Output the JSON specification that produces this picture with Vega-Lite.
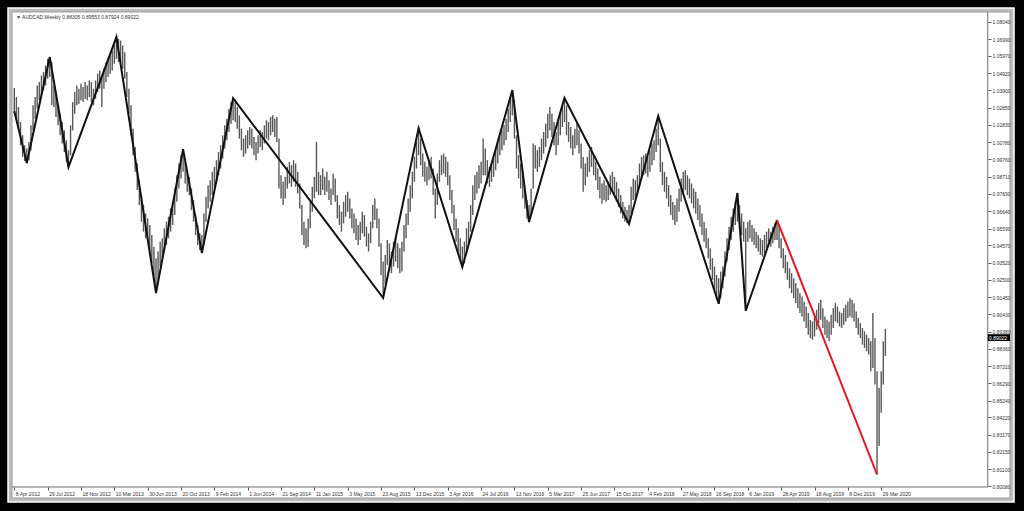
{
"$schema": "https://vega.github.io/schema/vega-lite/v6.json",
"width": 1006, "height": 494,
"autosize": {"type": "none"},
"padding": {"left": 8, "top": 8, "right": 10, "bottom": 9},
"background": "#000000",
"config": {"view": {"fill": "#bcbcbc", "stroke": "#ffffff", "strokeWidth": 1.5}, "font": "Liberation Sans", "axis": {"labelOverlap": false, "zindex": 1, "grid": false, "title": null, "tickCount": 200}},
"datasets": {
"bars": [
{"d":"2012-04-08","hi":1.0405,"lo":1.0254},{"d":"2012-04-15","hi":1.0350,"lo":1.0215},{"d":"2012-04-22","hi":1.0290,"lo":1.0160},{"d":"2012-04-29","hi":1.0200,"lo":1.0060},
{"d":"2012-05-06","hi":1.0120,"lo":0.9990},{"d":"2012-05-13","hi":1.0060,"lo":0.9965},{"d":"2012-05-20","hi":1.0040,"lo":0.9953},{"d":"2012-05-27","hi":1.0080,"lo":0.9970},
{"d":"2012-06-03","hi":1.0180,"lo":1.0030},{"d":"2012-06-10","hi":1.0300,"lo":1.0150},{"d":"2012-06-17","hi":1.0350,"lo":1.0220},{"d":"2012-06-24","hi":1.0420,"lo":1.0280},
{"d":"2012-07-01","hi":1.0440,"lo":1.0330},{"d":"2012-07-08","hi":1.0480,"lo":1.0360},{"d":"2012-07-15","hi":1.0500,"lo":1.0390},{"d":"2012-07-22","hi":1.0540,"lo":1.0420},{"d":"2012-07-29","hi":1.0580,"lo":1.0460},
{"d":"2012-08-05","hi":1.0591,"lo":1.0470},{"d":"2012-08-12","hi":1.0560,"lo":1.0300},{"d":"2012-08-19","hi":1.0420,"lo":1.0290},{"d":"2012-08-26","hi":1.0380,"lo":1.0230},
{"d":"2012-09-02","hi":1.0300,"lo":1.0180},{"d":"2012-09-09","hi":1.0250,"lo":1.0120},{"d":"2012-09-16","hi":1.0200,"lo":1.0070},{"d":"2012-09-23","hi":1.0150,"lo":1.0020},{"d":"2012-09-30","hi":1.0090,"lo":0.9960},
{"d":"2012-10-07","hi":1.0030,"lo":0.9929},{"d":"2012-10-14","hi":1.0180,"lo":1.0000},{"d":"2012-10-21","hi":1.0320,"lo":1.0150},{"d":"2012-10-28","hi":1.0380,"lo":1.0250},
{"d":"2012-11-04","hi":1.0420,"lo":1.0300},{"d":"2012-11-11","hi":1.0400,"lo":1.0310},{"d":"2012-11-18","hi":1.0430,"lo":1.0330},{"d":"2012-11-25","hi":1.0410,"lo":1.0320},
{"d":"2012-12-02","hi":1.0440,"lo":1.0340},{"d":"2012-12-09","hi":1.0420,"lo":1.0330},{"d":"2012-12-16","hi":1.0450,"lo":1.0350},{"d":"2012-12-23","hi":1.0440,"lo":1.0320},{"d":"2012-12-30","hi":1.0400,"lo":1.0300},
{"d":"2013-01-06","hi":1.0450,"lo":1.0340},{"d":"2013-01-13","hi":1.0490,"lo":1.0380},{"d":"2013-01-20","hi":1.0510,"lo":1.0400},{"d":"2013-01-27","hi":1.0470,"lo":1.0290},
{"d":"2013-02-03","hi":1.0520,"lo":1.0400},{"d":"2013-02-10","hi":1.0560,"lo":1.0440},{"d":"2013-02-17","hi":1.0580,"lo":1.0470},{"d":"2013-02-24","hi":1.0600,"lo":1.0490},
{"d":"2013-03-03","hi":1.0630,"lo":1.0510},{"d":"2013-03-10","hi":1.0680,"lo":1.0550},{"d":"2013-03-17","hi":1.0711,"lo":1.0580},{"d":"2013-03-24","hi":1.0700,"lo":1.0560},{"d":"2013-03-31","hi":1.0690,"lo":1.0560},
{"d":"2013-04-07","hi":1.0660,"lo":1.0520},{"d":"2013-04-14","hi":1.0620,"lo":1.0460},{"d":"2013-04-21","hi":1.0500,"lo":1.0350},{"d":"2013-04-28","hi":1.0400,"lo":1.0250},
{"d":"2013-05-05","hi":1.0300,"lo":1.0120},{"d":"2013-05-12","hi":1.0160,"lo":1.0000},{"d":"2013-05-19","hi":1.0050,"lo":0.9900},{"d":"2013-05-26","hi":0.9950,"lo":0.9790},
{"d":"2013-06-02","hi":0.9850,"lo":0.9700},{"d":"2013-06-09","hi":0.9760,"lo":0.9600},{"d":"2013-06-16","hi":0.9700,"lo":0.9540},{"d":"2013-06-23","hi":0.9650,"lo":0.9500},{"d":"2013-06-30","hi":0.9620,"lo":0.9480},
{"d":"2013-07-07","hi":0.9580,"lo":0.9420},{"d":"2013-07-14","hi":0.9520,"lo":0.9350},{"d":"2013-07-21","hi":0.9450,"lo":0.9250},{"d":"2013-07-28","hi":0.9380,"lo":0.9171},
{"d":"2013-08-04","hi":0.9420,"lo":0.9250},{"d":"2013-08-11","hi":0.9480,"lo":0.9330},{"d":"2013-08-18","hi":0.9500,"lo":0.9380},{"d":"2013-08-25","hi":0.9560,"lo":0.9420},
{"d":"2013-09-01","hi":0.9600,"lo":0.9460},{"d":"2013-09-08","hi":0.9630,"lo":0.9500},{"d":"2013-09-15","hi":0.9680,"lo":0.9540},{"d":"2013-09-22","hi":0.9720,"lo":0.9580},{"d":"2013-09-29","hi":0.9800,"lo":0.9640},
{"d":"2013-10-06","hi":0.9880,"lo":0.9720},{"d":"2013-10-13","hi":0.9950,"lo":0.9800},{"d":"2013-10-20","hi":1.0000,"lo":0.9860},{"d":"2013-10-27","hi":1.0037,"lo":0.9900},
{"d":"2013-11-03","hi":0.9960,"lo":0.9830},{"d":"2013-11-10","hi":0.9900,"lo":0.9780},{"d":"2013-11-17","hi":0.9870,"lo":0.9760},{"d":"2013-11-24","hi":0.9800,"lo":0.9670},
{"d":"2013-12-01","hi":0.9730,"lo":0.9600},{"d":"2013-12-08","hi":0.9640,"lo":0.9520},{"d":"2013-12-15","hi":0.9580,"lo":0.9460},{"d":"2013-12-22","hi":0.9530,"lo":0.9430},{"d":"2013-12-29","hi":0.9520,"lo":0.9412},
{"d":"2014-01-05","hi":0.9650,"lo":0.9460},{"d":"2014-01-12","hi":0.9750,"lo":0.9600},{"d":"2014-01-19","hi":0.9820,"lo":0.9680},{"d":"2014-01-26","hi":0.9850,"lo":0.9720},
{"d":"2014-02-02","hi":0.9900,"lo":0.9760},{"d":"2014-02-09","hi":0.9930,"lo":0.9800},{"d":"2014-02-16","hi":0.9970,"lo":0.9830},{"d":"2014-02-23","hi":1.0020,"lo":0.9880},
{"d":"2014-03-02","hi":1.0060,"lo":0.9920},{"d":"2014-03-09","hi":1.0120,"lo":0.9980},{"d":"2014-03-16","hi":1.0180,"lo":1.0040},{"d":"2014-03-23","hi":1.0220,"lo":1.0090},{"d":"2014-03-30","hi":1.0280,"lo":1.0140},
{"d":"2014-04-06","hi":1.0320,"lo":1.0190},{"d":"2014-04-13","hi":1.0344,"lo":1.0210},{"d":"2014-04-20","hi":1.0320,"lo":1.0200},{"d":"2014-04-27","hi":1.0290,"lo":1.0160},
{"d":"2014-05-04","hi":1.0240,"lo":1.0100},{"d":"2014-05-11","hi":1.0160,"lo":1.0030},{"d":"2014-05-18","hi":1.0100,"lo":0.9990},{"d":"2014-05-25","hi":1.0120,"lo":1.0010},
{"d":"2014-06-01","hi":1.0150,"lo":1.0040},{"d":"2014-06-08","hi":1.0170,"lo":1.0060},{"d":"2014-06-15","hi":1.0160,"lo":1.0040},{"d":"2014-06-22","hi":1.0110,"lo":1.0000},{"d":"2014-06-29","hi":1.0080,"lo":0.9970},
{"d":"2014-07-06","hi":1.0120,"lo":1.0010},{"d":"2014-07-13","hi":1.0150,"lo":1.0050},{"d":"2014-07-20","hi":1.0140,"lo":1.0030},{"d":"2014-07-27","hi":1.0180,"lo":1.0070},
{"d":"2014-08-03","hi":1.0210,"lo":1.0100},{"d":"2014-08-10","hi":1.0200,"lo":1.0090},{"d":"2014-08-17","hi":1.0230,"lo":1.0120},{"d":"2014-08-24","hi":1.0240,"lo":1.0140},{"d":"2014-08-31","hi":1.0220,"lo":1.0110},
{"d":"2014-09-07","hi":1.0230,"lo":1.0080},{"d":"2014-09-14","hi":1.0100,"lo":0.9800},{"d":"2014-09-21","hi":0.9880,"lo":0.9740},{"d":"2014-09-28","hi":0.9840,"lo":0.9700},
{"d":"2014-10-05","hi":0.9870,"lo":0.9740},{"d":"2014-10-12","hi":0.9930,"lo":0.9800},{"d":"2014-10-19","hi":0.9960,"lo":0.9830},{"d":"2014-10-26","hi":0.9940,"lo":0.9810},
{"d":"2014-11-02","hi":0.9970,"lo":0.9840},{"d":"2014-11-09","hi":0.9950,"lo":0.9810},{"d":"2014-11-16","hi":0.9900,"lo":0.9770},{"d":"2014-11-23","hi":0.9830,"lo":0.9680},{"d":"2014-11-30","hi":0.9700,"lo":0.9520},
{"d":"2014-12-07","hi":0.9600,"lo":0.9460},{"d":"2014-12-14","hi":0.9560,"lo":0.9440},{"d":"2014-12-21","hi":0.9620,"lo":0.9450},{"d":"2014-12-28","hi":0.9720,"lo":0.9560},
{"d":"2015-01-04","hi":0.9810,"lo":0.9660},{"d":"2015-01-11","hi":0.9870,"lo":0.9740},{"d":"2015-01-18","hi":1.0080,"lo":0.9780},{"d":"2015-01-25","hi":0.9900,"lo":0.9760},
{"d":"2015-02-01","hi":0.9880,"lo":0.9760},{"d":"2015-02-08","hi":0.9920,"lo":0.9790},{"d":"2015-02-15","hi":0.9870,"lo":0.9760},{"d":"2015-02-22","hi":0.9900,"lo":0.9780},
{"d":"2015-03-01","hi":0.9850,"lo":0.9730},{"d":"2015-03-08","hi":0.9800,"lo":0.9700},{"d":"2015-03-15","hi":0.9890,"lo":0.9760},{"d":"2015-03-22","hi":0.9860,"lo":0.9720},{"d":"2015-03-29","hi":0.9760,"lo":0.9620},
{"d":"2015-04-05","hi":0.9700,"lo":0.9580},{"d":"2015-04-12","hi":0.9660,"lo":0.9540},{"d":"2015-04-19","hi":0.9720,"lo":0.9590},{"d":"2015-04-26","hi":0.9760,"lo":0.9630},
{"d":"2015-05-03","hi":0.9780,"lo":0.9660},{"d":"2015-05-10","hi":0.9740,"lo":0.9620},{"d":"2015-05-17","hi":0.9680,"lo":0.9560},{"d":"2015-05-24","hi":0.9650,"lo":0.9530},{"d":"2015-05-31","hi":0.9620,"lo":0.9490},
{"d":"2015-06-07","hi":0.9580,"lo":0.9460},{"d":"2015-06-14","hi":0.9600,"lo":0.9490},{"d":"2015-06-21","hi":0.9660,"lo":0.9530},{"d":"2015-06-28","hi":0.9640,"lo":0.9510},
{"d":"2015-07-05","hi":0.9570,"lo":0.9450},{"d":"2015-07-12","hi":0.9530,"lo":0.9420},{"d":"2015-07-19","hi":0.9600,"lo":0.9470},{"d":"2015-07-26","hi":0.9700,"lo":0.9560},
{"d":"2015-08-02","hi":0.9740,"lo":0.9610},{"d":"2015-08-09","hi":0.9680,"lo":0.9560},{"d":"2015-08-16","hi":0.9620,"lo":0.9450},{"d":"2015-08-23","hi":0.9470,"lo":0.9280},{"d":"2015-08-30","hi":0.9360,"lo":0.9141},
{"d":"2015-09-06","hi":0.9400,"lo":0.9220},{"d":"2015-09-13","hi":0.9490,"lo":0.9340},{"d":"2015-09-20","hi":0.9470,"lo":0.9330},{"d":"2015-09-27","hi":0.9420,"lo":0.9290},
{"d":"2015-10-04","hi":0.9480,"lo":0.9330},{"d":"2015-10-11","hi":0.9510,"lo":0.9360},{"d":"2015-10-18","hi":0.9470,"lo":0.9320},{"d":"2015-10-25","hi":0.9440,"lo":0.9290},
{"d":"2015-11-01","hi":0.9480,"lo":0.9300},{"d":"2015-11-08","hi":0.9580,"lo":0.9420},{"d":"2015-11-15","hi":0.9650,"lo":0.9500},{"d":"2015-11-22","hi":0.9740,"lo":0.9580},{"d":"2015-11-29","hi":0.9820,"lo":0.9660},
{"d":"2015-12-06","hi":0.9900,"lo":0.9740},{"d":"2015-12-13","hi":0.9990,"lo":0.9840},{"d":"2015-12-20","hi":1.0080,"lo":0.9920},{"d":"2015-12-27","hi":1.0163,"lo":1.0000},
{"d":"2016-01-03","hi":1.0100,"lo":0.9940},{"d":"2016-01-10","hi":1.0010,"lo":0.9870},{"d":"2016-01-17","hi":0.9960,"lo":0.9840},{"d":"2016-01-24","hi":0.9930,"lo":0.9820},{"d":"2016-01-31","hi":0.9970,"lo":0.9850},
{"d":"2016-02-07","hi":0.9990,"lo":0.9860},{"d":"2016-02-14","hi":0.9920,"lo":0.9760},{"d":"2016-02-21","hi":0.9800,"lo":0.9620},{"d":"2016-02-28","hi":0.9890,"lo":0.9700},
{"d":"2016-03-06","hi":0.9970,"lo":0.9840},{"d":"2016-03-13","hi":1.0000,"lo":0.9880},{"d":"2016-03-20","hi":1.0010,"lo":0.9890},{"d":"2016-03-27","hi":0.9990,"lo":0.9870},
{"d":"2016-04-03","hi":0.9960,"lo":0.9820},{"d":"2016-04-10","hi":0.9880,"lo":0.9730},{"d":"2016-04-17","hi":0.9790,"lo":0.9650},{"d":"2016-04-24","hi":0.9700,"lo":0.9550},
{"d":"2016-05-01","hi":0.9620,"lo":0.9480},{"d":"2016-05-08","hi":0.9560,"lo":0.9420},{"d":"2016-05-15","hi":0.9500,"lo":0.9380},{"d":"2016-05-22","hi":0.9450,"lo":0.9328},{"d":"2016-05-29","hi":0.9480,"lo":0.9350},
{"d":"2016-06-05","hi":0.9560,"lo":0.9410},{"d":"2016-06-12","hi":0.9600,"lo":0.9470},{"d":"2016-06-19","hi":0.9700,"lo":0.9540},{"d":"2016-06-26","hi":0.9820,"lo":0.9640},
{"d":"2016-07-03","hi":0.9880,"lo":0.9730},{"d":"2016-07-10","hi":0.9900,"lo":0.9770},{"d":"2016-07-17","hi":0.9940,"lo":0.9800},{"d":"2016-07-24","hi":0.9960,"lo":0.9830},{"d":"2016-07-31","hi":1.0100,"lo":0.9880},
{"d":"2016-08-07","hi":1.0040,"lo":0.9880},{"d":"2016-08-14","hi":0.9970,"lo":0.9830},{"d":"2016-08-21","hi":0.9930,"lo":0.9810},{"d":"2016-08-28","hi":0.9950,"lo":0.9840},
{"d":"2016-09-04","hi":0.9990,"lo":0.9870},{"d":"2016-09-11","hi":1.0040,"lo":0.9910},{"d":"2016-09-18","hi":1.0080,"lo":0.9950},{"d":"2016-09-25","hi":1.0130,"lo":1.0000},
{"d":"2016-10-02","hi":1.0150,"lo":1.0030},{"d":"2016-10-09","hi":1.0180,"lo":1.0060},{"d":"2016-10-16","hi":1.0220,"lo":1.0090},{"d":"2016-10-23","hi":1.0280,"lo":1.0140},{"d":"2016-10-30","hi":1.0350,"lo":1.0200},
{"d":"2016-11-06","hi":1.0392,"lo":1.0240},{"d":"2016-11-13","hi":1.0330,"lo":1.0100},{"d":"2016-11-20","hi":1.0120,"lo":0.9920},{"d":"2016-11-27","hi":1.0000,"lo":0.9860},
{"d":"2016-12-04","hi":0.9950,"lo":0.9800},{"d":"2016-12-11","hi":0.9900,"lo":0.9740},{"d":"2016-12-18","hi":0.9790,"lo":0.9680},{"d":"2016-12-25","hi":0.9730,"lo":0.9620},
{"d":"2017-01-01","hi":0.9700,"lo":0.9598},{"d":"2017-01-08","hi":0.9800,"lo":0.9640},{"d":"2017-01-15","hi":1.0070,"lo":0.9800},{"d":"2017-01-22","hi":1.0060,"lo":0.9920},{"d":"2017-01-29","hi":1.0030,"lo":0.9900},
{"d":"2017-02-05","hi":1.0050,"lo":0.9930},{"d":"2017-02-12","hi":1.0100,"lo":0.9970},{"d":"2017-02-19","hi":1.0140,"lo":1.0010},{"d":"2017-02-26","hi":1.0190,"lo":1.0050},
{"d":"2017-03-05","hi":1.0250,"lo":1.0100},{"d":"2017-03-12","hi":1.0290,"lo":1.0150},{"d":"2017-03-19","hi":1.0250,"lo":1.0110},{"d":"2017-03-26","hi":1.0200,"lo":1.0060},
{"d":"2017-04-02","hi":1.0140,"lo":1.0000},{"d":"2017-04-09","hi":1.0200,"lo":1.0060},{"d":"2017-04-16","hi":1.0260,"lo":1.0120},{"d":"2017-04-23","hi":1.0300,"lo":1.0170},{"d":"2017-04-30","hi":1.0344,"lo":1.0200},
{"d":"2017-05-07","hi":1.0300,"lo":1.0120},{"d":"2017-05-14","hi":1.0200,"lo":1.0080},{"d":"2017-05-21","hi":1.0170,"lo":1.0040},{"d":"2017-05-28","hi":1.0120,"lo":1.0000},
{"d":"2017-06-04","hi":1.0160,"lo":1.0040},{"d":"2017-06-11","hi":1.0190,"lo":1.0060},{"d":"2017-06-18","hi":1.0150,"lo":1.0010},{"d":"2017-06-25","hi":1.0070,"lo":0.9920},
{"d":"2017-07-02","hi":0.9990,"lo":0.9780},{"d":"2017-07-09","hi":0.9950,"lo":0.9820},{"d":"2017-07-16","hi":0.9990,"lo":0.9870},{"d":"2017-07-23","hi":1.0030,"lo":0.9900},{"d":"2017-07-30","hi":1.0050,"lo":0.9930},
{"d":"2017-08-06","hi":1.0000,"lo":0.9880},{"d":"2017-08-13","hi":0.9960,"lo":0.9850},{"d":"2017-08-20","hi":0.9920,"lo":0.9790},{"d":"2017-08-27","hi":0.9870,"lo":0.9740},
{"d":"2017-09-03","hi":0.9830,"lo":0.9710},{"d":"2017-09-10","hi":0.9850,"lo":0.9730},{"d":"2017-09-17","hi":0.9820,"lo":0.9720},{"d":"2017-09-24","hi":0.9840,"lo":0.9730},
{"d":"2017-10-01","hi":0.9880,"lo":0.9760},{"d":"2017-10-08","hi":0.9900,"lo":0.9790},{"d":"2017-10-15","hi":0.9870,"lo":0.9760},{"d":"2017-10-22","hi":0.9840,"lo":0.9720},{"d":"2017-10-29","hi":0.9800,"lo":0.9690},
{"d":"2017-11-05","hi":0.9760,"lo":0.9650},{"d":"2017-11-12","hi":0.9720,"lo":0.9620},{"d":"2017-11-19","hi":0.9690,"lo":0.9600},{"d":"2017-11-26","hi":0.9670,"lo":0.9590},
{"d":"2017-12-03","hi":0.9700,"lo":0.9586},{"d":"2017-12-10","hi":0.9810,"lo":0.9650},{"d":"2017-12-17","hi":0.9860,"lo":0.9730},{"d":"2017-12-24","hi":0.9850,"lo":0.9740},{"d":"2017-12-31","hi":0.9880,"lo":0.9760},
{"d":"2018-01-07","hi":0.9950,"lo":0.9810},{"d":"2018-01-14","hi":0.9990,"lo":0.9860},{"d":"2018-01-21","hi":1.0000,"lo":0.9880},{"d":"2018-01-28","hi":1.0010,"lo":0.9890},
{"d":"2018-02-04","hi":0.9990,"lo":0.9870},{"d":"2018-02-11","hi":1.0030,"lo":0.9900},{"d":"2018-02-18","hi":1.0070,"lo":0.9940},{"d":"2018-02-25","hi":1.0090,"lo":0.9970},
{"d":"2018-03-04","hi":1.0160,"lo":1.0020},{"d":"2018-03-11","hi":1.0236,"lo":1.0060},{"d":"2018-03-18","hi":1.0100,"lo":0.9900},{"d":"2018-03-25","hi":0.9960,"lo":0.9820},
{"d":"2018-04-01","hi":0.9900,"lo":0.9780},{"d":"2018-04-08","hi":0.9870,"lo":0.9740},{"d":"2018-04-15","hi":0.9820,"lo":0.9690},{"d":"2018-04-22","hi":0.9760,"lo":0.9640},{"d":"2018-04-29","hi":0.9720,"lo":0.9610},
{"d":"2018-05-06","hi":0.9700,"lo":0.9580},{"d":"2018-05-13","hi":0.9740,"lo":0.9600},{"d":"2018-05-20","hi":0.9800,"lo":0.9660},{"d":"2018-05-27","hi":0.9860,"lo":0.9720},
{"d":"2018-06-03","hi":0.9900,"lo":0.9770},{"d":"2018-06-10","hi":0.9910,"lo":0.9790},{"d":"2018-06-17","hi":0.9880,"lo":0.9760},{"d":"2018-06-24","hi":0.9860,"lo":0.9740},
{"d":"2018-07-01","hi":0.9830,"lo":0.9710},{"d":"2018-07-08","hi":0.9800,"lo":0.9680},{"d":"2018-07-15","hi":0.9780,"lo":0.9650},{"d":"2018-07-22","hi":0.9740,"lo":0.9610},{"d":"2018-07-29","hi":0.9700,"lo":0.9570},
{"d":"2018-08-05","hi":0.9650,"lo":0.9520},{"d":"2018-08-12","hi":0.9600,"lo":0.9480},{"d":"2018-08-19","hi":0.9560,"lo":0.9440},{"d":"2018-08-26","hi":0.9500,"lo":0.9380},
{"d":"2018-09-02","hi":0.9440,"lo":0.9310},{"d":"2018-09-09","hi":0.9380,"lo":0.9250},{"d":"2018-09-16","hi":0.9330,"lo":0.9190},{"d":"2018-09-23","hi":0.9280,"lo":0.9130},{"d":"2018-09-30","hi":0.9260,"lo":0.9106},
{"d":"2018-10-07","hi":0.9300,"lo":0.9140},{"d":"2018-10-14","hi":0.9330,"lo":0.9200},{"d":"2018-10-21","hi":0.9420,"lo":0.9270},{"d":"2018-10-28","hi":0.9500,"lo":0.9360},
{"d":"2018-11-04","hi":0.9570,"lo":0.9430},{"d":"2018-11-11","hi":0.9630,"lo":0.9490},{"d":"2018-11-18","hi":0.9680,"lo":0.9540},{"d":"2018-11-25","hi":0.9720,"lo":0.9580},
{"d":"2018-12-02","hi":0.9773,"lo":0.9600},{"d":"2018-12-09","hi":0.9700,"lo":0.9560},{"d":"2018-12-16","hi":0.9650,"lo":0.9520},{"d":"2018-12-23","hi":0.9600,"lo":0.9480},{"d":"2018-12-30","hi":0.9560,"lo":0.9064},
{"d":"2019-01-06","hi":0.9600,"lo":0.9480},{"d":"2019-01-13","hi":0.9610,"lo":0.9500},{"d":"2019-01-20","hi":0.9580,"lo":0.9480},{"d":"2019-01-27","hi":0.9560,"lo":0.9460},
{"d":"2019-02-03","hi":0.9540,"lo":0.9440},{"d":"2019-02-10","hi":0.9520,"lo":0.9420},{"d":"2019-02-17","hi":0.9500,"lo":0.9400},{"d":"2019-02-24","hi":0.9490,"lo":0.9390},
{"d":"2019-03-03","hi":0.9520,"lo":0.9410},{"d":"2019-03-10","hi":0.9540,"lo":0.9440},{"d":"2019-03-17","hi":0.9560,"lo":0.9460},{"d":"2019-03-24","hi":0.9540,"lo":0.9450},{"d":"2019-03-31","hi":0.9570,"lo":0.9470},
{"d":"2019-04-07","hi":0.9590,"lo":0.9490},{"d":"2019-04-14","hi":0.9610,"lo":0.9490},{"d":"2019-04-21","hi":0.9580,"lo":0.9440},{"d":"2019-04-28","hi":0.9500,"lo":0.9380},
{"d":"2019-05-05","hi":0.9440,"lo":0.9320},{"d":"2019-05-12","hi":0.9400,"lo":0.9290},{"d":"2019-05-19","hi":0.9360,"lo":0.9250},{"d":"2019-05-26","hi":0.9320,"lo":0.9200},
{"d":"2019-06-02","hi":0.9290,"lo":0.9170},{"d":"2019-06-09","hi":0.9260,"lo":0.9140},{"d":"2019-06-16","hi":0.9230,"lo":0.9110},{"d":"2019-06-23","hi":0.9200,"lo":0.9080},{"d":"2019-06-30","hi":0.9170,"lo":0.9050},
{"d":"2019-07-07","hi":0.9150,"lo":0.9030},{"d":"2019-07-14","hi":0.9120,"lo":0.9000},{"d":"2019-07-21","hi":0.9090,"lo":0.8960},{"d":"2019-07-28","hi":0.9050,"lo":0.8920},
{"d":"2019-08-04","hi":0.9010,"lo":0.8900},{"d":"2019-08-11","hi":0.9000,"lo":0.8890},{"d":"2019-08-18","hi":0.9030,"lo":0.8910},{"d":"2019-08-25","hi":0.9070,"lo":0.8950},
{"d":"2019-09-01","hi":0.9110,"lo":0.8990},{"d":"2019-09-08","hi":0.9130,"lo":0.9010},{"d":"2019-09-15","hi":0.9080,"lo":0.8960},{"d":"2019-09-22","hi":0.9030,"lo":0.8920},{"d":"2019-09-29","hi":0.9010,"lo":0.8900},
{"d":"2019-10-06","hi":0.9000,"lo":0.8880},{"d":"2019-10-13","hi":0.9040,"lo":0.8920},{"d":"2019-10-20","hi":0.9080,"lo":0.8960},{"d":"2019-10-27","hi":0.9110,"lo":0.9000},
{"d":"2019-11-03","hi":0.9090,"lo":0.8990},{"d":"2019-11-10","hi":0.9060,"lo":0.8970},{"d":"2019-11-17","hi":0.9050,"lo":0.8960},{"d":"2019-11-24","hi":0.9080,"lo":0.8980},
{"d":"2019-12-01","hi":0.9100,"lo":0.9000},{"d":"2019-12-08","hi":0.9120,"lo":0.9020},{"d":"2019-12-15","hi":0.9140,"lo":0.9030},{"d":"2019-12-22","hi":0.9130,"lo":0.9020},{"d":"2019-12-29","hi":0.9110,"lo":0.9000},
{"d":"2020-01-05","hi":0.9060,"lo":0.8960},{"d":"2020-01-12","hi":0.9020,"lo":0.8920},{"d":"2020-01-19","hi":0.8990,"lo":0.8900},{"d":"2020-01-26","hi":0.8960,"lo":0.8860},
{"d":"2020-02-02","hi":0.8940,"lo":0.8840},{"d":"2020-02-09","hi":0.8920,"lo":0.8820},{"d":"2020-02-16","hi":0.8900,"lo":0.8800},{"d":"2020-02-23","hi":0.8880,"lo":0.8700},
{"d":"2020-03-01","hi":0.9050,"lo":0.8720},{"d":"2020-03-08","hi":0.8900,"lo":0.8620},{"d":"2020-03-15","hi":0.8700,"lo":0.8079},{"d":"2020-03-22","hi":0.8600,"lo":0.8250},{"d":"2020-03-29","hi":0.8700,"lo":0.8450},
{"d":"2020-04-05","hi":0.8880,"lo":0.8620},{"d":"2020-04-12","hi":0.8955,"lo":0.8792}
],
"zig": [
{"d":"2012-04-08","p":1.0265},{"d":"2012-05-20","p":0.9953},{"d":"2012-08-05","p":1.0591},{"d":"2012-10-07","p":0.9929},{"d":"2013-03-17","p":1.0711},{"d":"2013-07-28","p":0.9171},{"d":"2013-10-27","p":1.0037},{"d":"2013-12-29","p":0.9412},{"d":"2014-04-13","p":1.0344},{"d":"2015-08-30","p":0.9141},{"d":"2015-12-27","p":1.0163},{"d":"2016-05-22","p":0.9328},{"d":"2016-11-06","p":1.0392},{"d":"2017-01-01","p":0.9598},{"d":"2017-04-30","p":1.0344},{"d":"2017-12-03","p":0.9586},{"d":"2018-03-11","p":1.0236},{"d":"2018-09-30","p":0.9106},{"d":"2018-12-02","p":0.9773},{"d":"2018-12-30","p":0.9064},{"d":"2019-04-14","p":0.9610}
],
"red": [
{"d":"2019-04-14","p":0.9610},{"d":"2020-03-15","p":0.8079}
]
},
"layer": [
{
"data": {"values": [{}]},
"mark": {"type": "rect", "fill": "#ffffff", "stroke": "#9c9c9c", "strokeWidth": 1},
"encoding": {
"x": {"datum": {"year": 2012, "month": 3, "date": 31, "hours": 7, "utc": true}, "type": "temporal"},
"x2": {"datum": {"year": 2021, "month": 6, "date": 4, "hours": 14, "utc": true}},
"y": {"datum": 0.79376, "type": "quantitative"},
"y2": {"datum": 1.08618}
}
},
{
"data": {"name": "bars"},
"mark": {"type": "rule", "color": "#585858", "strokeWidth": 1.4},
"encoding": {
"x": {"field": "d", "type": "temporal",
"scale": {"type": "utc", "domain": [{"year": 2012, "month": 3, "date": 17, "hours": 20, "utc": true}, {"year": 2021, "month": 6, "date": 18, "hours": 2, "utc": true}]},
"axis": {"orient": "bottom", "offset": -15, "title": null, "grid": false, "domain": false, "zindex": 1, "tickCount": 200,
"values": [
{"year":2012,"month":4,"date":8,"utc":true},{"year":2012,"month":7,"date":29,"utc":true},{"year":2012,"month":11,"date":18,"utc":true},
{"year":2013,"month":3,"date":10,"utc":true},{"year":2013,"month":6,"date":30,"utc":true},{"year":2013,"month":10,"date":20,"utc":true},
{"year":2014,"month":2,"date":9,"utc":true},{"year":2014,"month":6,"date":1,"utc":true},{"year":2014,"month":9,"date":21,"utc":true},
{"year":2015,"month":1,"date":11,"utc":true},{"year":2015,"month":5,"date":3,"utc":true},{"year":2015,"month":8,"date":23,"utc":true},
{"year":2015,"month":12,"date":13,"utc":true},{"year":2016,"month":4,"date":3,"utc":true},{"year":2016,"month":7,"date":24,"utc":true},
{"year":2016,"month":11,"date":13,"utc":true},{"year":2017,"month":3,"date":5,"utc":true},{"year":2017,"month":6,"date":25,"utc":true},
{"year":2017,"month":10,"date":15,"utc":true},{"year":2018,"month":2,"date":4,"utc":true},{"year":2018,"month":5,"date":27,"utc":true},
{"year":2018,"month":9,"date":16,"utc":true},{"year":2019,"month":1,"date":6,"utc":true},{"year":2019,"month":4,"date":28,"utc":true},
{"year":2019,"month":8,"date":18,"utc":true},{"year":2019,"month":12,"date":8,"utc":true},{"year":2020,"month":3,"date":29,"utc":true}
],
"format": "%-d %b %Y", "labelAlign": "left", "labelOffset": 1, "labelFontSize": 5, "labelColor": "#333333",
"labelPadding": 1, "tickSize": 3, "tickColor": "#555555", "labelOverlap": false, "labelFlush": false}},
"y": {"field": "lo", "type": "quantitative",
"scale": {"domain": [0.79135, 1.08858], "zero": false, "nice": false},
"axis": {"orient": "right", "offset": -26, "title": null, "grid": false, "domain": false, "zindex": 1, "tickCount": 200,
"values": [1.0804, 1.0699, 1.0597, 1.0492, 1.039, 1.0285, 1.0183, 1.0078, 0.9976, 0.9871, 0.9769, 0.9664, 0.9559, 0.9457, 0.9352, 0.925, 0.9145, 0.9043, 0.8938, 0.8836, 0.8731, 0.8629, 0.8524, 0.8422, 0.8317, 0.8215, 0.811, 0.8008],
"format": ".5f", "labelFontSize": 5, "labelColor": "#333333", "labelPadding": 1, "tickSize": 3, "tickColor": "#555555", "labelOverlap": false, "labelFlush": false}},
"y2": {"field": "hi"}
}
},
{
"data": {"values": [{}]},
"mark": {"type": "rule", "color": "#6e6e6e", "strokeWidth": 1},
"encoding": {
"x": {"datum": {"year": 2021, "month": 3, "date": 22, "utc": true}, "type": "temporal"},
"y": {"datum": 0.80038, "type": "quantitative"},
"y2": {"datum": 1.08618}
}
},
{
"data": {"values": [{}]},
"mark": {"type": "rule", "color": "#6e6e6e", "strokeWidth": 1},
"encoding": {
"x": {"datum": {"year": 2012, "month": 3, "date": 31, "hours": 7, "utc": true}, "type": "temporal"},
"x2": {"datum": {"year": 2021, "month": 3, "date": 22, "utc": true}},
"y": {"datum": 0.80038, "type": "quantitative"}
}
},
{
"data": {"name": "zig"},
"mark": {"type": "line", "color": "#111111", "strokeWidth": 2},
"encoding": {
"x": {"field": "d", "type": "temporal"},
"y": {"field": "p", "type": "quantitative"}
}
},
{
"data": {"name": "red"},
"mark": {"type": "line", "color": "#e8141c", "strokeWidth": 2},
"encoding": {
"x": {"field": "d", "type": "temporal"},
"y": {"field": "p", "type": "quantitative"}
}
},
{
"data": {"values": [{}]},
"mark": {"type": "text", "text": "▼ AUDCAD,Weekly  0.88305 0.89553 0.87924 0.89022", "align": "left", "baseline": "middle", "fontSize": 5, "fill": "#333333"},
"encoding": {
"x": {"datum": {"year": 2012, "month": 4, "date": 13, "hours": 17, "utc": true}, "type": "temporal"},
"y": {"datum": 1.08287, "type": "quantitative"}
}
},
{
"data": {"values": [{}]},
"mark": {"type": "rect", "fill": "#000000"},
"encoding": {
"x": {"datum": {"year": 2021, "month": 3, "date": 22, "utc": true}, "type": "temporal"},
"x2": {"datum": {"year": 2021, "month": 6, "date": 4, "hours": 14, "utc": true}},
"y": {"datum": 0.8882, "type": "quantitative"},
"y2": {"datum": 0.8923}
}
},
{
"data": {"values": [{}]},
"mark": {"type": "text", "text": "0.89022", "align": "left", "baseline": "middle", "fontSize": 5, "fill": "#ffffff"},
"encoding": {
"x": {"datum": {"year": 2021, "month": 3, "date": 26, "utc": true}, "type": "temporal"},
"y": {"datum": 0.89022, "type": "quantitative"}
}
}
]
}
